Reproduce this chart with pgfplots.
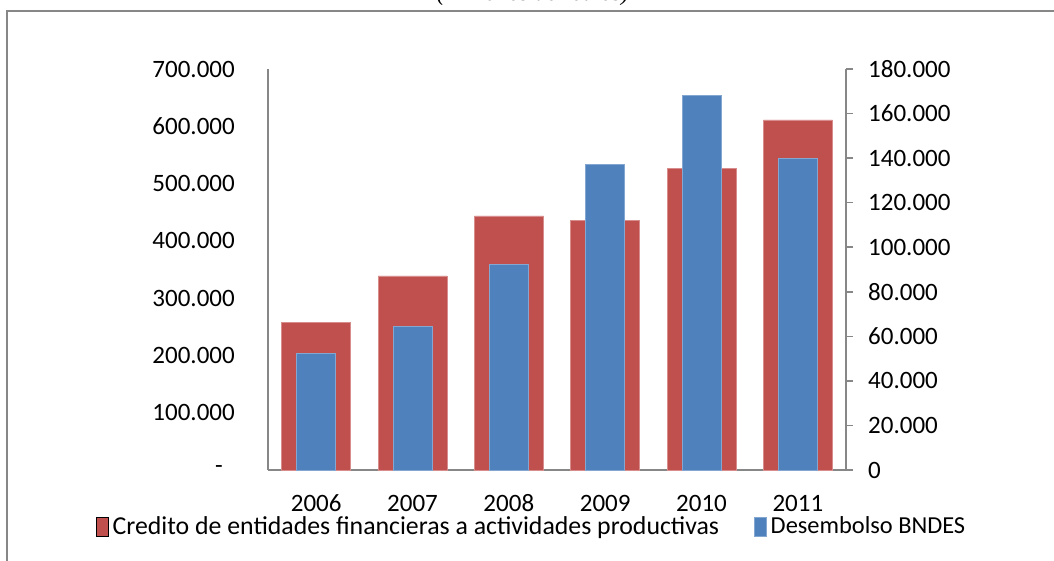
\documentclass[border=0pt]{standalone}
\usepackage{fontspec}
\setmainfont{Carlito}
\newfontfamily\titlefont{Liberation Serif}
\usepackage{pgfplots}
\pgfplotsset{compat=1.18}
\definecolor{credred}{HTML}{C0504D}
\definecolor{bndesblue}{HTML}{4F81BD}
\definecolor{axgray}{HTML}{878787}

\begin{document}
\fontsize{25pt}{30pt}\selectfont
\begin{tikzpicture}

% left axis: credit to productive activities
\begin{axis}[
  at={(268pt,91pt)}, anchor=south west,
  scale only axis, width=578pt, height=401pt,
  xmin=-0.5, xmax=5.5, ymin=0, ymax=700000,
  axis x line*=bottom, axis y line*=left,
  axis line style={axgray, line width=1.5pt},
  xtick={0,1,2,3,4,5}, xticklabels={2006,2007,2008,2009,2010,2011},
  ytick={0,100000,200000,300000,400000,500000,600000,700000},
  yticklabels={{-\hspace*{12pt}},100.000,200.000,300.000,400.000,500.000,600.000,700.000},
  scaled y ticks=false,
  major tick length=0pt,
  tick style={draw=none},
  yticklabel style={anchor=east, inner sep=0pt, xshift=-33pt},
  xticklabel style={anchor=north, inner sep=0pt, yshift=-25pt, text height=16pt, text depth=0pt},
  ybar, bar width=69pt,
  clip=false
]
\addplot[fill=credred, draw=credred!65!white, line width=0.6pt, bar shift=0pt]
  coordinates {(0,257100) (1,338700) (2,443400) (3,435900) (4,526700) (5,611000)};
\end{axis}

% right axis: BNDES disbursements
\begin{axis}[
  at={(268pt,91pt)}, anchor=south west,
  scale only axis, width=578pt, height=401pt,
  xmin=-0.5, xmax=5.5, ymin=0, ymax=180000,
  axis x line=none, axis y line*=right,
  axis line style={axgray, line width=1.5pt},
  ytick={0,20000,40000,60000,80000,100000,120000,140000,160000,180000},
  yticklabels={0,20.000,40.000,60.000,80.000,100.000,120.000,140.000,160.000,180.000},
  scaled y ticks=false,
  tick align=outside, major tick length=7pt,
  tick style={axgray, line width=1.5pt},
  yticklabel style={anchor=west, inner sep=0pt, xshift=15pt},
  ybar, bar width=39pt,
  clip=false,
  legend style={at={(-0.2976,-0.1422)}, anchor=west, draw=none, fill=none,
    inner sep=0pt, legend columns=2,
    nodes={inner xsep=4pt, inner ysep=0pt},
    /tikz/every even column/.append style={column sep=31pt}},
  legend cell align=left,
  legend image code/.code={\fill[#1] (0pt,-9.5pt) rectangle (12pt,9.5pt);}
]
\addlegendimage{fill=credred}
\addlegendentry{\fontsize{25.8pt}{30pt}\selectfont Credito de entidades financieras a actividades productivas}
\addplot[fill=bndesblue, draw=bndesblue!70!white, line width=0.6pt, bar shift=0pt]
  coordinates {(0,52400) (1,64600) (2,92300) (3,137200) (4,168300) (5,139900)};
\addlegendentry{\fontsize{24.4pt}{30pt}\selectfont Desembolso BNDES}
\end{axis}

% outer chart frame and the heading above it, both running past the page edge
\draw[axgray, line width=2pt] (7pt,-20pt) -- (7pt,550pt) -- (1080pt,550pt) -- (1080pt,-20pt);
\node[anchor=base, inner sep=0pt, font=\titlefont\itshape\fontsize{24pt}{28pt}\selectfont] at (533pt,560pt) {(Millones de reales)};

\pgfresetboundingbox
\useasboundingbox (0pt,0pt) rectangle (1054pt,561pt);
\end{tikzpicture}
\end{document}
